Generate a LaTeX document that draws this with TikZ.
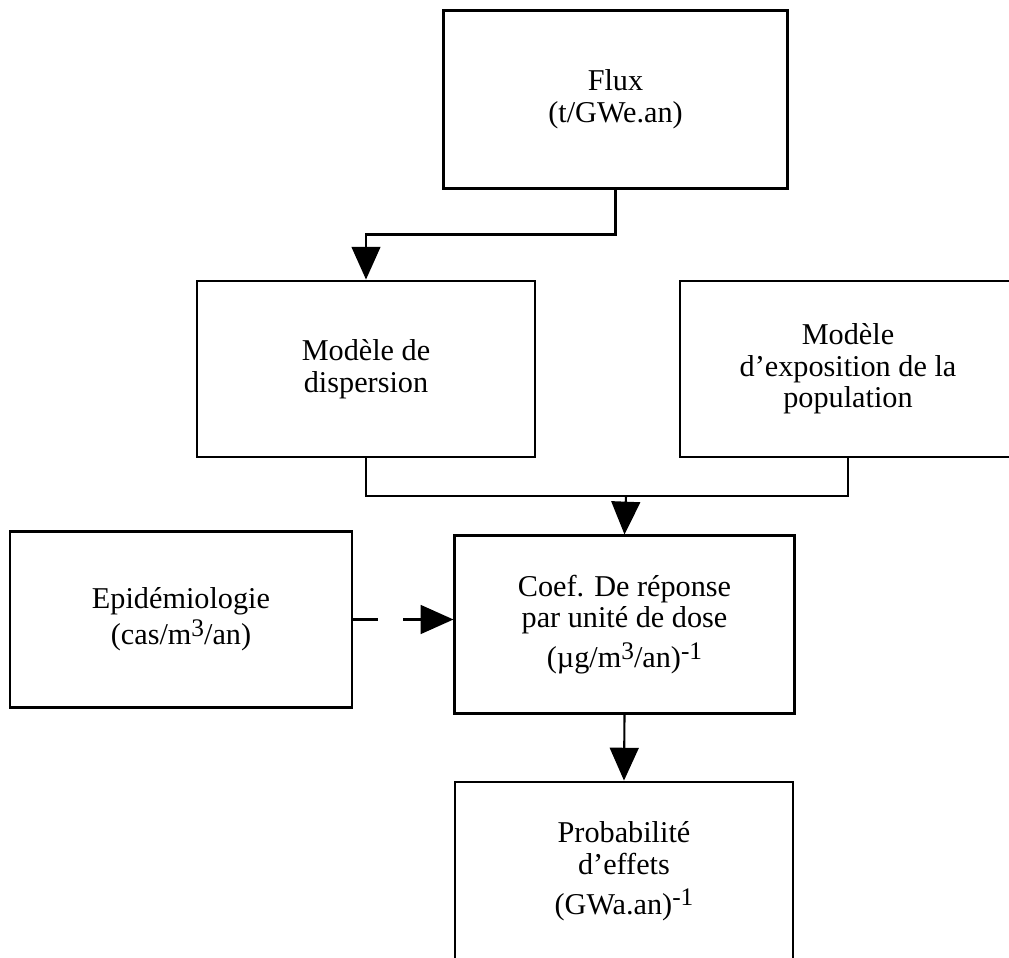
\documentclass[tikz,border=0pt]{standalone}
\usepackage{fontspec}
\setmainfont{Liberation Serif}
\usetikzlibrary{arrows.meta}

\newcommand{\expo}[1]{\raisebox{.6ex}{\fontsize{18}{18}\selectfont #1}}

\begin{document}
\begin{tikzpicture}[x=0.025cm,y=-0.025cm,
  box/.style={draw,line width=2pt,inner sep=0pt,align=center,
    font=\fontsize{21.5}{22.5}\selectfont},
  flow/.style={line width=1.5pt,-{Triangle[length=8.2mm,width=7.2mm]}}]
\useasboundingbox (0,0) rectangle (1009,958);

\node[box,minimum width=8.58cm,minimum height=4.43cm] (flux) at (615.5,99.5) {Flux\\(t/GWe.an)};
\node[box,minimum width=8.45cm,minimum height=4.4cm] (disp) at (366,369) {Mod\`ele de\\dispersion};
\node[box,minimum width=8.4cm,minimum height=4.4cm] (expo) at (848,369) {Mod\`ele\\d'exposition de la\\population};
\node[box,minimum width=8.55cm,minimum height=4.38cm] (epid) at (181,619.5) {Epid\'emiologie\\[3pt](cas/m\expo{3}/an)};
\node[box,minimum width=8.48cm,minimum height=4.43cm] (coef) at (624.5,624.5) {Coef. De r\'eponse\\par unit\'e de dose\\[6pt](µg/m\expo{3}/an)\expo{-1}};
\node[box,minimum width=8.45cm,minimum height=4.45cm] (prob) at (624,871) {Probabilit\'e\\d'effets\\[6pt](GWa.an)\expo{-1}};

\coordinate (join) at (626,496);

\draw[flow] (flux.south) -- ++(0,45) -| (disp.north);
\draw[line width=1.5pt] (disp.south) |- (join) -| (expo.south);
\draw[flow] (join) -- (coef.north);
\draw[flow,dash pattern=on 0.625cm off 0.625cm] (epid.east) -- (epid.east -| coef.west);
\draw[flow] (coef.south) -- (prob.north);
\end{tikzpicture}
\end{document}
